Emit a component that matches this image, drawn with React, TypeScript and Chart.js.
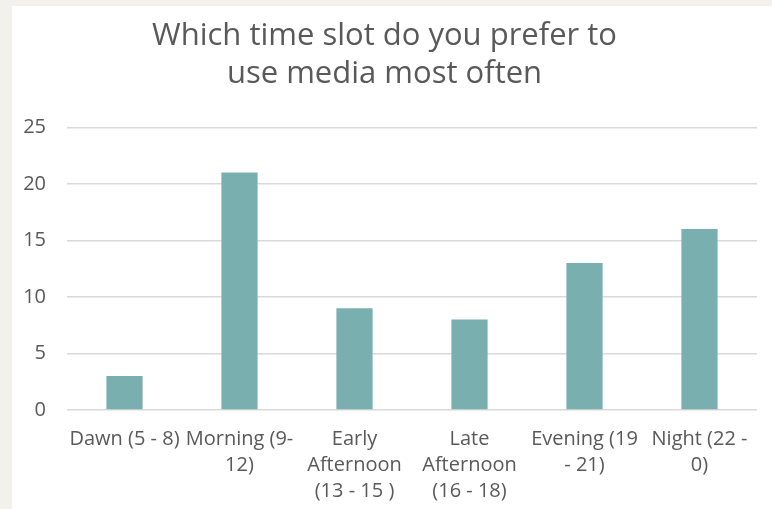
import React, { useEffect, useRef } from "react";
import { Chart, registerables } from "chart.js";

Chart.register(...registerables);

const titleLines = ["Which time slot do you prefer to", "use media most often"];
const categories: string[][] = [
  ["Dawn (5 - 8)"],
  ["Morning (9-", "12)"],
  ["Early", "Afternoon", "(13 - 15 )"],
  ["Late", "Afternoon", "(16 - 18)"],
  ["Evening (19", "- 21)"],
  ["Night (22 -", "0)"],
];
const values = [3, 21, 9, 8, 13, 16];
const yMin = 0;
const yMax = 25;
const yStep = 5;

const FONT = "'Open Sans', Lato, sans-serif";

export default function App() {
  const ref = useRef<HTMLCanvasElement | null>(null);
  useEffect(() => {
    document.body.style.margin = "0";
    const ctx = ref.current!;
    const chart = new Chart(ctx, {
      type: "bar",
      data: {
        labels: categories,
        datasets: [
          {
            data: values,
            backgroundColor: "#7AAFB0",
            borderWidth: 0,
            categoryPercentage: 1,
            barPercentage: 0.315,
          },
        ],
      },
      options: {
        animation: false,
        responsive: false,
        maintainAspectRatio: false,
        layout: { padding: { left: 0, right: 15, top: 0, bottom: 0 } },
        plugins: {
          legend: { display: false },
          tooltip: { enabled: false },
          title: {
            display: true,
            text: titleLines,
            color: "#595959",
            font: { family: FONT, size: 31, weight: "normal", lineHeight: 1.23 },
            padding: { top: 11, bottom: 34 },
          },
        },
        scales: {
          x: {
            grid: { display: false },
            border: { display: false },
            ticks: {
              color: "#595959",
              font: { family: FONT, size: 20, lineHeight: 1.3 },
              maxRotation: 0,
              minRotation: 0,
              autoSkip: false,
              padding: 8,
            },
            afterFit: (s: any) => {
              s.height = 99;
            },
          },
          y: {
            min: yMin,
            max: yMax,
            border: { display: false },
            grid: { color: "#D9D9D9", lineWidth: 1.5, drawTicks: false },
            ticks: {
              stepSize: yStep,
              color: "#595959",
              font: { family: FONT, size: 20 },
              padding: 21,
            },
            afterFit: (s: any) => {
              s.width = 55;
            },
          },
        },
      },
    });
    return () => chart.destroy();
  }, []);
  return (
    <div style={{ position: "relative", width: 772, height: 509, background: "#F3F1EB", overflow: "hidden" }}>
      <div style={{ position: "absolute", left: 12, top: 6, width: 760, height: 503, background: "#FFFFFF" }}>
        <canvas ref={ref} width={760} height={503} style={{ display: "block" }} />
      </div>
    </div>
  );
}
